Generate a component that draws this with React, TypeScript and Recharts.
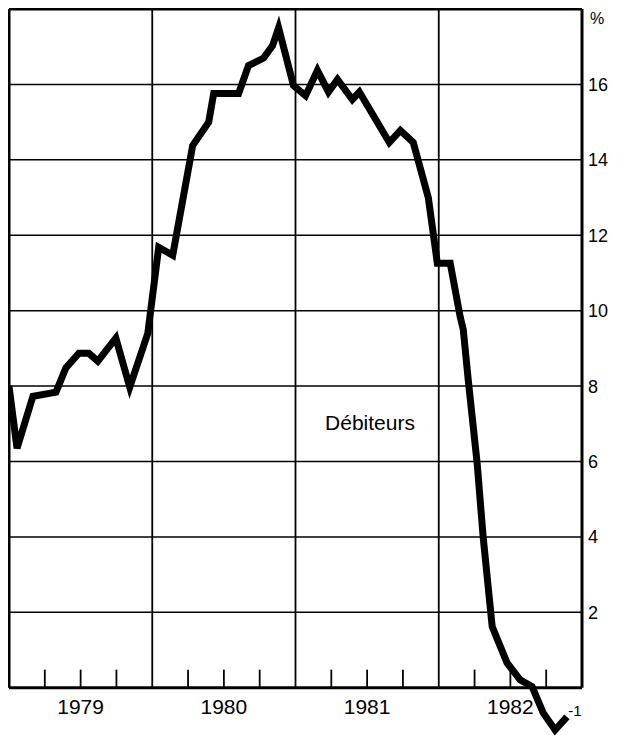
import React from 'react';
import { LineChart, Line, XAxis, YAxis, ReferenceLine, ReferenceDot } from 'recharts';

// Time (fractional years) and values (%) of the "Débiteurs" series
const DATES = [
  1979.0, 1979.056, 1979.167, 1979.328, 1979.397, 1979.488, 1979.557, 1979.62, 1979.746, 1979.843,
  1979.969, 1980.045, 1980.143, 1980.282, 1980.394, 1980.429, 1980.603, 1980.672, 1980.777, 1980.84,
  1980.882, 1980.986, 1981.07, 1981.153, 1981.23, 1981.293, 1981.397, 1981.446, 1981.655, 1981.732,
  1981.822, 1981.927, 1981.99, 1982.08, 1982.15, 1982.171, 1982.206, 1982.268, 1982.31, 1982.373,
  1982.477, 1982.568, 1982.652, 1982.728, 1982.812, 1982.895,
];
const VALUES = [
  8.0, 6.35, 7.73, 7.84, 8.48, 8.87, 8.87, 8.66, 9.27, 7.97,
  9.4, 11.68, 11.47, 14.38, 15.0, 15.76, 15.76, 16.5, 16.7, 17.03,
  17.5, 15.97, 15.7, 16.37, 15.8, 16.13, 15.6, 15.8, 14.46, 14.78,
  14.46, 13.0, 11.26, 11.26, 9.83, 9.5, 8.16, 5.96, 4.0, 1.62,
  0.66, 0.21, 0.03, -0.66, -1.12, -0.77,
];

const YEARS = [1979, 1980, 1981, 1982];
const YEAR_BOUNDS = [1980, 1981, 1982];
const QUARTERS = [0.25, 0.5, 0.75];
const Y_TICKS = [2, 4, 6, 8, 10, 12, 14, 16];
const Y_MIN = -1.2;
const Y_MAX = 18;
const X_MIN = 1979;
const X_MAX = 1983;
const SERIES_LABEL = 'Débiteurs';
const END_LABEL = '-1';
const UNIT_LABEL = '%';

const data = DATES.map((x, i) => ({ x, v: VALUES[i] }));

const FONT = '"Liberation Sans", Arial, Helvetica, sans-serif';

const renderYTick = (props: any) => {
  const { x, y, payload } = props;
  return (
    <text
      x={x}
      y={y}
      dy="0.36em"
      textAnchor="start"
      style={{ fontSize: 18, fontFamily: FONT }}
      fill="#000"
    >
      {payload.value}
    </text>
  );
};

export default function App() {
  return (
    <div style={{ fontFamily: FONT, width: 614, height: 730 }}>
      <LineChart width={614} height={730} data={data} margin={{ top: 1, right: 4, left: 1, bottom: 5 }}>
        <XAxis type="number" dataKey="x" domain={[X_MIN, X_MAX]} hide />
        <YAxis
          orientation="right"
          type="number"
          domain={[Y_MIN, Y_MAX]}
          ticks={Y_TICKS}
          width={36}
          axisLine={false}
          tickLine={false}
          tickMargin={0}
          tick={renderYTick}
          interval={0}
        />
        {Y_TICKS.map((t) => (
          <ReferenceLine key={'h' + t} y={t} stroke="#000" strokeWidth={1.5} />
        ))}
        {YEAR_BOUNDS.map((b) => (
          <ReferenceLine
            key={'v' + b}
            segment={[{ x: b, y: 0 }, { x: b, y: Y_MAX }]}
            stroke="#000"
            strokeWidth={1.8}
          />
        ))}
        {YEARS.map((yr) =>
          QUARTERS.map((q) => (
            <ReferenceLine
              key={'q' + yr + q}
              segment={[{ x: yr + q, y: 0 }, { x: yr + q, y: 0.48 }]}
              stroke="#000"
              strokeWidth={1.8}
            />
          ))
        )}
        <ReferenceLine y={Y_MAX} stroke="#000" strokeWidth={3} />
        <ReferenceLine y={0} stroke="#000" strokeWidth={3} />
        <ReferenceLine segment={[{ x: X_MIN, y: 0 }, { x: X_MIN, y: Y_MAX }]} stroke="#000" strokeWidth={3} />
        <ReferenceLine segment={[{ x: X_MAX, y: 0 }, { x: X_MAX, y: Y_MAX }]} stroke="#000" strokeWidth={3} />
        {YEARS.map((yr) => (
          <ReferenceDot
            key={'yl' + yr}
            x={yr + 0.5}
            y={-0.5}
            r={0}
            fill="none"
            stroke="none"
            label={{ value: String(yr), position: 'center', fontSize: 21, fill: '#000', fontFamily: FONT }}
          />
        ))}
        <ReferenceDot
          x={1981.52}
          y={7.02}
          r={0}
          fill="none"
          stroke="none"
          label={{ value: SERIES_LABEL, position: 'center', fontSize: 21, fill: '#000', fontFamily: FONT }}
        />
        <ReferenceDot
          x={1982.95}
          y={-0.62}
          r={0}
          fill="none"
          stroke="none"
          label={{ value: END_LABEL, position: 'center', fontSize: 15, fill: '#000', fontFamily: FONT }}
        />
        <ReferenceDot
          x={X_MAX}
          y={17.75}
          r={0}
          fill="none"
          stroke="none"
          label={{ value: UNIT_LABEL, position: 'right', offset: 8, fontSize: 16, fill: '#000', fontFamily: FONT }}
        />
        <Line
          type="linear"
          dataKey="v"
          stroke="#000"
          strokeWidth={7}
          dot={false}
          activeDot={false}
          isAnimationActive={false}
        />
      </LineChart>
    </div>
  );
}
